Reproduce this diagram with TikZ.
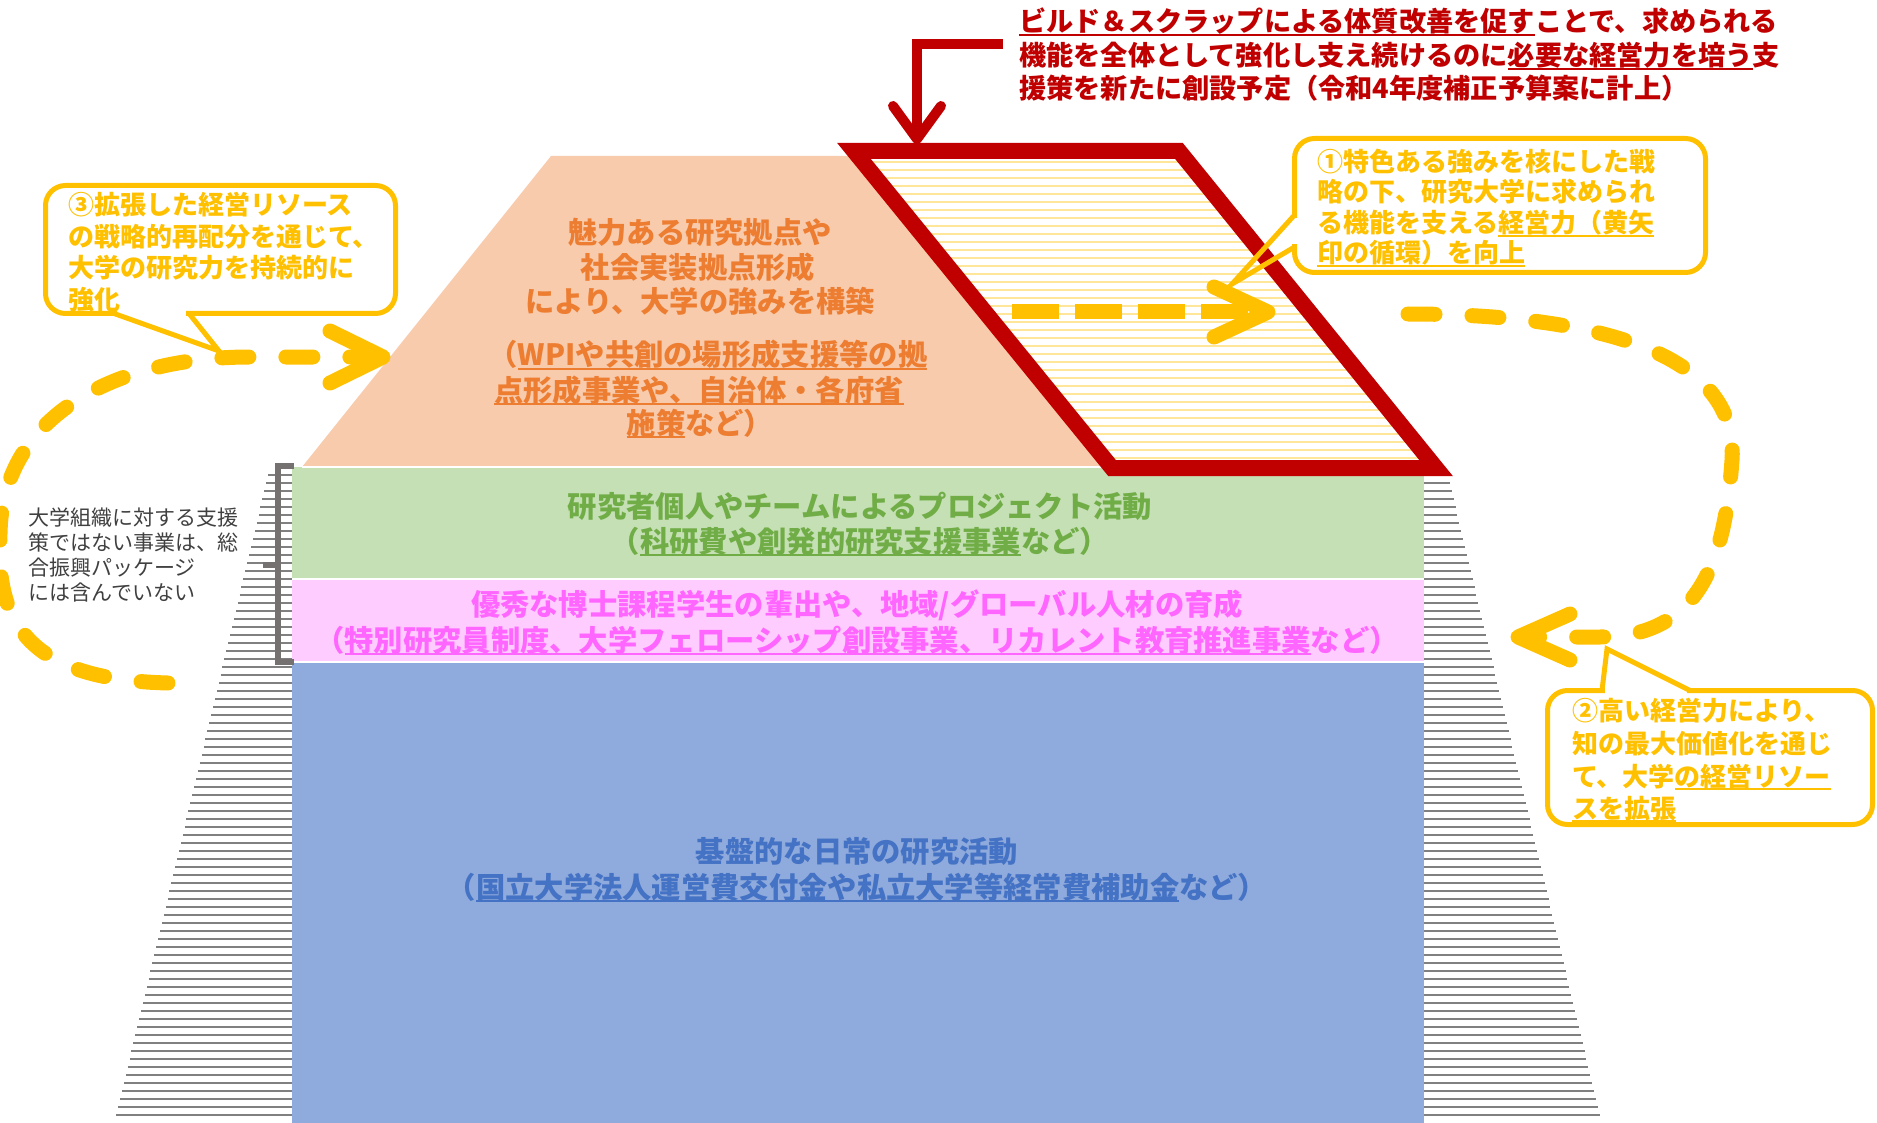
\documentclass[tikz,border=0pt]{standalone}
\usepackage{fontspec}
\newfontfamily\jp{Noto Sans CJK JP}
\definecolor{peach}{HTML}{F8CBAD}
\definecolor{lgreen}{HTML}{C5E0B4}
\definecolor{lpink}{HTML}{FFCCFF}
\definecolor{lblue}{HTML}{8FAADC}
\definecolor{dred}{HTML}{C00000}
\definecolor{gold}{HTML}{FFC000}
\definecolor{stripe}{HTML}{FFE699}
\definecolor{hatch}{HTML}{808080}
\definecolor{brk}{HTML}{767171}
\definecolor{ptxt}{HTML}{ED7D31}
\definecolor{gtxt}{HTML}{70AD47}
\definecolor{pktxt}{HTML}{FF66FF}
\definecolor{btxt}{HTML}{4472C4}
\definecolor{notec}{HTML}{404040}
\newsavebox\ulbox
\newcommand\myul[1]{\sbox\ulbox{#1}\rlap{\rule[-0.15em]{\wd\ulbox}{0.07em}}\usebox\ulbox}
\tikzset{
  hatchline/.style={draw=hatch, line width=1.8pt},
  sepline/.style={draw=white, line width=1.5pt},
  bandtext/.style={font=\jp\bfseries\fontsize{29.3}{34}\selectfont, inner sep=0pt, anchor=base},
  ptext/.style={bandtext, text=ptxt},
  gtext/.style={bandtext, text=gtxt},
  pktext/.style={bandtext, text=pktxt},
  btext/.style={bandtext, text=btxt},
  rtitle/.style={font=\jp\bfseries\fontsize{27.2}{33}\selectfont, text=dred, inner sep=0pt, anchor=base west},
  calltext/.style={font=\jp\bfseries\fontsize{26}{31}\selectfont, text=gold, inner sep=0pt, anchor=base west},
  notetext/.style={font=\jp\fontsize{21}{25}\selectfont, text=notec, inner sep=0pt, anchor=base west},
  callbox/.style={draw=gold, fill=white, line width=5pt, rounded corners=20pt},
  tailline/.style={draw=gold, line width=5pt, line join=miter},
  loopdash/.style={draw=gold, line width=15pt, line cap=round, dash pattern=on 27pt off 37pt},
  shaftdash/.style={draw=gold, line width=15pt, dash pattern=on 47pt off 16pt},
  chev/.style={draw=gold, line width=15pt, line cap=round, line join=round},
  redline/.style={draw=dred, line width=10pt},
  redchev/.style={draw=dred, line width=10pt, line cap=round, line join=round},
  bracket/.style={draw=brk, line width=6pt}
}
\begin{document}
\begin{tikzpicture}[x=1pt,y=-1pt]
\useasboundingbox (0,0) rectangle (1877,1123);
% side hatching
\foreach \k in {0,...,80}{
  \pgfmathsetmacro\yy{475+8*\k}
  \pgfmathsetmacro\hw{590+(\yy-475)*0.237}
  \draw[hatchline] ({858-\hw},\yy) -- (292,\yy);
  \draw[hatchline] (1424,\yy) -- ({858+\hw},\yy);
}
% bands
\fill[lblue] (292,662) rectangle (1424,1123);
\fill[lpink] (292,579) rectangle (1424,662);
\fill[lgreen] (292,467) rectangle (1424,579);
\draw[sepline] (292,579) -- (1424,579);
\draw[sepline] (292,662) -- (1424,662);
\fill[peach] (551,156) -- (1165,156) -- (1414,467) -- (302,467) -- cycle;
\draw[sepline] (302,467) -- (1424,467);
% red parallelogram
\coordinate (p1) at (854,151);
\coordinate (p2) at (1179,151);
\coordinate (p3) at (1436,468);
\coordinate (p4) at (1112,468);
\fill[white] (p1) -- (p2) -- (p3) -- (p4) -- cycle;
\begin{scope}
  \clip (p1) -- (p2) -- (p3) -- (p4) -- cycle;
  \foreach \k in {0,...,40}{
    \draw[stripe, line width=2.6pt] (800,{162+8*\k}) -- (1500,{162+8*\k});
  }
\end{scope}
\draw[dred, line width=16pt, line join=miter] (p1) -- (p2) -- (p3) -- (p4) -- cycle;
% bracket
\draw[bracket] (294,466) -- (278,466) -- (278,662) -- (294,662);
\draw[bracket] (278,565) -- (263,565);
% note
\node[notetext] (n1) at (28,525) {大学組織に対する支援};
\node[notetext] (n2) at (28,550) {策ではない事業は、総};
\node[notetext] (n3) at (28,575) {合振興パッケージ};
\node[notetext] (n4) at (28,600) {には含んでいない};
% peach text
\node[ptext] (pk1) at (700,244) {魅力ある研究拠点や};
\node[ptext] (pk2) at (698,279) {社会実装拠点形成};
\node[ptext] (pk3) at (700,313) {により、大学の強みを構築};
\node[ptext] (pk4) at (708,366) {（\myul{WPIや共創の場形成支援等の拠}};
\node[ptext] (pk5) at (699,401) {\myul{点形成事業や、自治体・各府省}};
\node[ptext] (pk6) at (700,434) {\myul{施策}など）};
% green
\node[gtext] (g1) at (860,517) {研究者個人やチームによるプロジェクト活動};
\node[gtext] (g2) at (860,552) {（\myul{科研費や創発的研究支援事業}など）};
% pink
\node[pktext] (k1) at (857,615) {優秀な博士課程学生の輩出や、地域/グローバル人材の育成};
\node[pktext] (k2) at (857,651) {（\myul{特別研究員制度、大学フェローシップ創設事業、リカレント教育推進事業}など）};
% blue
\node[btext] (b1) at (857,862) {基盤的な日常の研究活動};
\node[btext] (b2) at (857,898) {（\myul{国立大学法人運営費交付金や私立大学等経常費補助金}など）};
% yellow arrow 1 inside parallelogram
\coordinate (s1) at (1012,312);
\coordinate (s2) at (1262,312);
\draw[shaftdash] (s1) -- (s2);
\draw[chev] (1214,287) -- (1268,312) -- (1214,337);
% right loop (2)
\coordinate (r0) at (1408,314);
\coordinate (r1) at (1732,460);
\coordinate (r2) at (1600,637);
\coordinate (r3) at (1530,637);
\draw[loopdash] (r0) .. controls (1560,314) and (1740,340) .. (r1)
  .. controls (1725,560) and (1700,637) .. (r2) -- (r3);
\draw[chev] (1570,614) -- (1518,637) -- (1570,660);
% left loop (3)
\coordinate (l0) at (168,683);
\coordinate (l1) at (0,540);
\coordinate (l2) at (250,357);
\coordinate (l3) at (375,357);
\draw[loopdash] (l0) .. controls (50,680) and (-5,640) .. (l1)
  .. controls (-2,420) and (110,357) .. (l2) -- (l3);
\draw[chev] (330,331) -- (383,357) -- (330,383);
% callout 1
\draw[callbox] (1294.5,138.5) rectangle (1705.5,272.5);
\fill[white] (1291,218) rectangle (1298,244);
\coordinate (c1a) at (1294.5,215);
\coordinate (c1t) at (1232,284);
\coordinate (c1b) at (1294.5,247);
\draw[tailline] (c1a) -- (c1t) -- (c1b);
\node[calltext] (c1l1) at (1317,172) {①特色ある強みを核にした戦};
\node[calltext] (c1l2) at (1317,202) {略の下、研究大学に求められ};
\node[calltext] (c1l3) at (1317,233) {る機能を支える\myul{経営力（黄矢}};
\node[calltext] (c1l4) at (1317,263) {\myul{印の循環）を向上}};
% callout 2
\draw[callbox] (1547.5,690.5) rectangle (1872.5,824.5);
\fill[white] (1605,687) rectangle (1687,694);
\coordinate (c2a) at (1602,690.5);
\coordinate (c2t) at (1607,649);
\coordinate (c2b) at (1690,690.5);
\draw[tailline] (c2a) -- (c2t) -- (c2b);
\node[calltext] (c2l1) at (1572,720) {②高い経営力により、};
\node[calltext] (c2l2) at (1572,753) {知の最大価値化を通じ};
\node[calltext] (c2l3) at (1572,786) {て、大学\myul{の経営リソー}};
\node[calltext] (c2l4) at (1572,818) {\myul{スを拡張}};
% callout 3
\draw[callbox] (45.5,185.5) rectangle (395.5,313.5);
\fill[white] (117,310) rectangle (186,317);
\coordinate (c3a) at (114,313.5);
\coordinate (c3t) at (219,351);
\coordinate (c3b) at (189,313.5);
\draw[tailline] (c3a) -- (c3t) -- (c3b);
\node[calltext] (c3l1) at (68,215) {③拡張した経営リソース};
\node[calltext] (c3l2) at (68,247) {の戦略的再配分を通じて、};
\node[calltext] (c3l3) at (68,278) {大学の研究力を持続的に};
\node[calltext] (c3l4) at (68,310) {強化};
% red title
\node[rtitle] (t1) at (1019,32) {\myul{ビルド＆スクラップによる体質改善を促す}ことで、求められる};
\node[rtitle] (t2) at (1019,66) {機能を全体として強化し支え続けるのに\myul{必要な経営力を培う}支};
\node[rtitle] (t3) at (1019,99) {援策を新たに創設予定（令和4年度補正予算案に計上）};
% red arrow
\coordinate (ra0) at (1003,44);
\coordinate (ra1) at (917,44);
\coordinate (ra2) at (917,138);
\draw[redline] (ra0) -- (ra1) -- (ra2);
\draw[redchev] (893,106) -- (917,139) -- (941,106);
\end{tikzpicture}
\end{document}
